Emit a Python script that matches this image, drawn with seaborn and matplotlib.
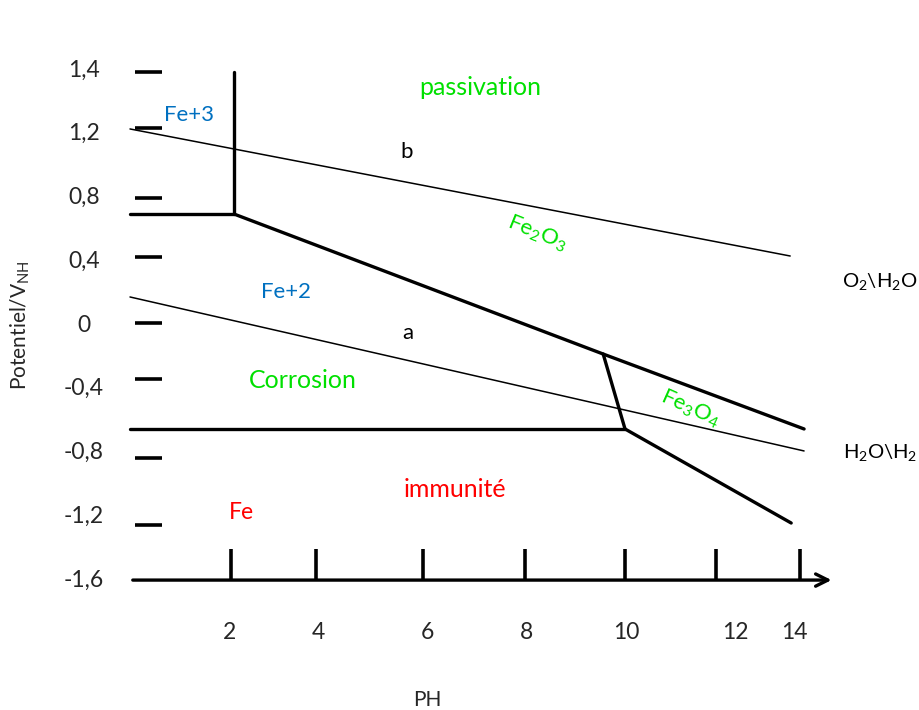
import numpy as np
import pandas as pd
import matplotlib
matplotlib.use("Agg")
import matplotlib.pyplot as plt
import seaborn as sns

# Pourbaix-style diagram for iron (pH on x, potential on y)
sns.set_theme(style="white")
plt.rcParams["font.family"] = ["Lato", "DejaVu Sans"]
plt.rcParams["mathtext.fontset"] = "custom"
plt.rcParams["mathtext.rm"] = "Lato"
plt.rcParams["mathtext.it"] = "Lato:italic"

# thick domain boundaries (pH, E)
thick_segments = {
    "fe3_vertical": ([2.10, 2.10], [0.696, 1.587]),
    "fe3_fe2": ([0.0, 2.10], [0.696, 0.696]),
    "fe2o3_upper": ([2.10, 9.54, 13.59], [0.696, -0.182, -0.652]),
    "fe2_fe3o4": ([9.54, 9.98], [-0.182, -0.652]),
    "fe2_fe": ([0.0, 9.98], [-0.652, -0.652]),
    "fe3o4_fe": ([9.98, 13.33], [-0.652, -1.242]),
}
# thin water stability lines
thin_segments = {
    "b": ([0.0, 13.31], [1.230, 0.433]),
    "a": ([0.0, 13.59], [0.176, -0.790]),
}

# axis tick dashes and labels
ytick_marks = [1.587, 1.238, 0.797, 0.427, 0.013, -0.339, -0.835, -1.255]
ytick_pos = [1.6, 1.2, 0.8, 0.4, 0.0, -0.4, -0.8, -1.2, -1.6]
ytick_labels = ["1,4", "1,2", "0,8", "0,4", "0", "-0,4", "-0,8", "-1,2", "-1,6"]
xtick_marks = [2.04, 3.74, 5.91, 7.96, 9.98, 11.81, 13.51]
xtick_pos = [2.0, 3.8, 6.0, 8.0, 10.0, 12.2, 13.4]
xtick_labels = ["2", "4", "6", "8", "10", "12", "14"]

# region labels: text, pH, E, colour, rotation, size
region_labels = [
    ("passivation", 7.06, 1.487, "#00E000", 0, 18),
    ("Fe+3", 1.19, 1.317, "#0070C0", 0, 16),
    ("b", 5.58, 1.085, "black", 0, 16),
    (r"Fe$_2$O$_3$", 8.21, 0.577, "#00E000", -22, 16),
    (r"O$_2$\H$_2$O", 15.12, 0.270, "black", 14.5, 14.5),
    ("Fe+2", 3.15, 0.207, "#0070C0", 0, 16),
    ("a", 5.60, -0.050, "black", 0, 16),
    ("Corrosion", 3.49, -0.351, "#00E000", 0, 18),
    (r"Fe$_3$O$_4$", 11.29, -0.521, "#00E000", -24, 16),
    (r"H$_2$O\H$_2$", 15.12, -0.797, "black", 0, 14.5),
    ("immunité", 6.55, -1.029, "#FF0000", 0, 18),
    ("Fe", 2.24, -1.173, "#FF0000", 0, 16.5),
]


def to_frame(segments):
    rows = []
    for name, (xs, ys) in segments.items():
        for x, y in zip(xs, ys):
            rows.append({"seg": name, "ph": x, "E": y})
    return pd.DataFrame(rows)


fig = plt.figure(figsize=(9.19, 7.10), dpi=100)
ax = fig.add_axes([0, 0, 1, 1])
ax.set_xlim(-2.621, 15.907)
ax.set_ylim(-2.415, 2.039)
ax.axis("off")

sns.lineplot(data=to_frame(thick_segments), x="ph", y="E", units="seg",
             estimator=None, sort=False, color="black", lw=2.4, ax=ax)
sns.lineplot(data=to_frame(thin_segments), x="ph", y="E", units="seg",
             estimator=None, sort=False, color="black", lw=1.1, ax=ax)

# arrowed axes
ax.annotate("", xy=(14.2, -1.6), xytext=(0, -1.6),
            arrowprops=dict(arrowstyle="->", lw=2.4, color="black",
                            mutation_scale=22))
ax.annotate("", xy=(0, 2.05), xytext=(0, -1.6),
            arrowprops=dict(arrowstyle="->", lw=2.4, color="black",
                            mutation_scale=22))

# hand-drawn tick dashes
ax.hlines(ytick_marks, 0.1, 0.65, color="black", lw=2.6)
ax.vlines(xtick_marks, -1.6, -1.404, color="black", lw=2.6)

for pos, lab in zip(ytick_pos, ytick_labels):
    ax.text(-0.93, pos, lab, ha="center", va="center", fontsize=16.5)
for pos, lab in zip(xtick_pos, xtick_labels):
    ax.text(pos, -1.926, lab, ha="center", va="center", fontsize=16.5)

for text, x, y, col, rot, size in region_labels:
    if text.startswith("O$"):
        rot = 0
    ax.text(x, y, text, color=col, ha="center", va="center",
            rotation=rot, rotation_mode="anchor", fontsize=size)

ax.text(-2.22, 0.0, r"Potentiel/V$_{\mathrm{NH}}$", rotation=90,
        ha="center", va="center", fontsize=15)
ax.text(5.99, -2.353, "PH", ha="center", va="center", fontsize=15)

fig.savefig("out.png", dpi=100)
